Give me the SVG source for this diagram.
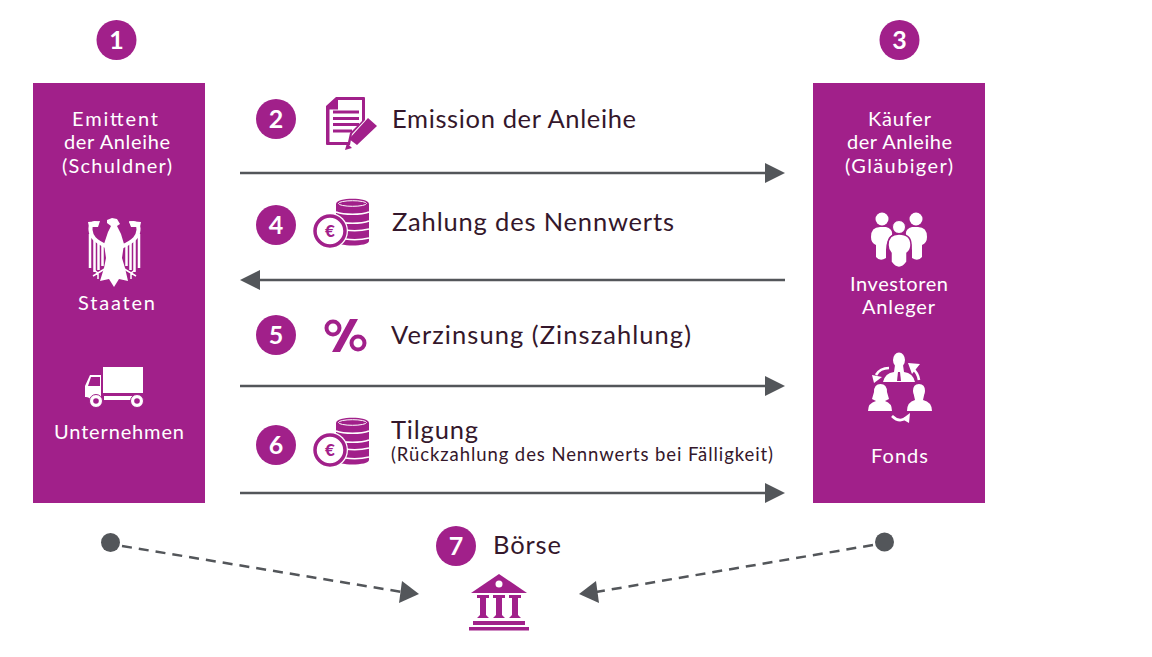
<svg xmlns="http://www.w3.org/2000/svg" width="1152" height="657" viewBox="0 0 1152 657">
<style>
text{font-family:"Lato","Liberation Sans",sans-serif}
.w{fill:#fff;font-size:20px}
.d{fill:#34172b;font-size:25.500px}
.n{fill:#fff;font-size:25px;font-weight:700;text-anchor:middle}
.c{fill:#a1208a}
.box{fill:#a1208a}
.l{stroke:#53565a;stroke-width:2.5;fill:none}
.ld{stroke:#53565a;stroke-width:2.5;fill:none;stroke-dasharray:10 7}
.h{fill:#53565a}
.ws{stroke:#fff;fill:none}
</style>
<defs>
<g id="coins">
<path class="c" d="M22 6C22 -1 55 -1 55 6V43C55 49 22 49 22 43Z"/>
<path d="M22 14C30 17 47 17 55 14M22 23C30 26 47 26 55 23M31 32C38 33 47 33 55 31M31 41C38 42 47 42 55 40" stroke="#fff" stroke-width="1.600" fill="none"/>
<ellipse cx="38.500" cy="5.500" rx="14" ry="2.800" fill="none" stroke="#fff" stroke-width="1"/>
<circle cx="16" cy="33" r="18" fill="#fff"/>
<circle cx="16" cy="33" r="15" fill="#fff" stroke="#a1208a" stroke-width="3.500"/>
<text x="16" y="39" text-anchor="middle" style="font-size:17px;font-weight:900;fill:#a1208a">€</text>
</g>
</defs>
<g id="connectors">
<path class="l" d="M240 173H768"/><path class="h" d="M785 173L765 163V183Z"/>
<path class="l" d="M257 280H785"/><path class="h" d="M240 280L260 270V290Z"/>
<path class="l" d="M240 386H768"/><path class="h" d="M785 386L765 376V396Z"/>
<path class="l" d="M240 493H768"/><path class="h" d="M785 493L765 483V503Z"/>
<path class="ld" d="M122 546L402 592"/><path class="h" d="M419 594L402 581L399 603Z"/>
<path class="ld" d="M873 545L596 592"/><path class="h" d="M579 594L596 581L599 603Z"/>
</g>
<g id="n1"><circle class="c" cx="116.500" cy="40" r="20"/><text class="n" x="116.500" y="49">1</text></g>
<g id="n3"><circle class="c" cx="899.500" cy="40" r="20"/><text class="n" x="899.500" y="49">3</text></g>
<g id="emittent"><rect class="box" x="33" y="83" width="172" height="420"/>
<text class="w" x="72" y="126" textLength="86">Emittent</text>
<text class="w" x="64" y="149" textLength="106">der Anleihe</text>
<text class="w" x="62" y="173" textLength="110">(Schuldner)</text>
<text class="w" x="78" y="310" textLength="77">Staaten</text>
<text class="w" x="54" y="439" textLength="130">Unternehmen</text>
<g id="eagle">
<path fill="#fff" d="M107 220L112 218L117 219L120 224L117 226L121 234L124 244L122 258L125 268L128 281L119 279L114 287L109 279L100 281L104 268L106 258L104 244L108 232L111 226L107 223Z"/>
<path class="ws" stroke-width="4" d="M98 224C93 221 90 225 90.500 230C91 236 94 241 108 247"/>
<path class="ws" stroke-width="4" d="M130 224C135 221 139 225 138.500 230C138 236 135 241 121 247"/>
<path fill="#fff" d="M88 222L100 221L98 227L89 227Z M141 222L129 221L131 227L140 227Z"/>
<path class="ws" stroke-width="2.500" d="M90 234V268M94.500 240V272M98.500 242V270M102.500 243V266M139 234V268M134.500 240V272M130.500 242V270M126.500 243V266"/>
<path class="ws" stroke-width="1.500" d="M108 267L98 273L94 270M98 273L93 276M98 273L98 279M121 267L131 273L135 270M131 273L136 276M131 273L131 279"/>
</g>
<g id="truck"><path fill="#fff" d="M103 367H143V393H103ZM85 386L90 375H101V400H91A6 6 0 0 0 85 397ZM104 396H132V400H104Z"/>
<path d="M88 386L91 377H100V386Z" fill="#a1208a"/>
<circle cx="96" cy="401" r="6.500" fill="#fff" stroke="#a1208a"/><circle cx="137" cy="401" r="6.500" fill="#fff" stroke="#a1208a"/>
<circle cx="96" cy="401" r="2.800" fill="#a1208a"/><circle cx="137" cy="401" r="2.800" fill="#a1208a"/></g>
</g>
<g id="kaeufer"><rect class="box" x="813" y="83" width="172" height="420"/>
<text class="w" x="868" y="126" textLength="63">Käufer</text>
<text class="w" x="847" y="149" textLength="105">der Anleihe</text>
<text class="w" x="845" y="173" textLength="108">(Gläubiger)</text>
<text class="w" x="850" y="291" textLength="98">Investoren</text>
<text class="w" x="862" y="314" textLength="73">Anleger</text>
<text class="w" x="871" y="463" textLength="57">Fonds</text>
<g id="investors" fill="#fff"><circle cx="882" cy="219" r="6.500"/><circle cx="916" cy="219" r="6.500"/>
<path d="M871 237Q871 227 880 227H886Q893 229 892 235Q886 240 886 250V258Q880 262 876 257V245Q871 243 871 237Z"/>
<path d="M927 237Q927 227 918 227H912Q905 229 906 235Q912 240 912 250V258Q918 262 922 257V245Q927 243 927 237Z"/>
<circle cx="899" cy="227" r="6.500" stroke="#a1208a" stroke-width="1"/>
<path d="M888 245Q888 234 899 234Q911 234 911 245Q911 250 907 253V262Q899 273 891 262V253Q888 250 888 245Z" stroke="#a1208a" stroke-width="1.500"/></g>
<g id="fonds" fill="#fff">
<ellipse cx="899" cy="360" rx="6" ry="7.500"/><path d="M895 365H903L904 372Q913 373 915 382H883Q885 373 894 372Z"/>
<path d="M898 372H900L901 381H897Z" fill="#a1208a"/>
<ellipse cx="880.500" cy="392" rx="5.500" ry="6.500"/><path d="M874 392Q874 384 880.500 384Q887 384 887 392L889 399L885 401Q892 403 892 411H868Q868 403 876 401L872 399Z"/>
<ellipse cx="919" cy="392" rx="5.500" ry="6.500"/><path d="M913 391Q913 384 919 384Q925 384 925 391L923 400Q932 402 932 411H907Q907 402 915 400Z"/>
<path class="ws" stroke-width="2.600" d="M889 368Q880 368 876 375M919 380Q918 373 913 369M892 416Q899 423 906 418"/>
<path d="M872 375L882 377L874 383Z M920 364L912 374L908 363Z M910 413L909 423L902 419Z"/>
</g>
</g>
<g id="step2"><circle class="c" cx="276" cy="119" r="20"/><text class="n" x="276" y="128">2</text>
<path class="c" d="M336 97H364Q365 97 365 98V120L352 134L350 145H327Q326 145 326 144V106Z"/>
<path d="M338 100H362V121L350 133L348 142H329.500V109.500H338Z" fill="#fff"/>
<path class="c" d="M333 110.500H359V113.500H333ZM333 117H359V120H333ZM333 123H359V126H333ZM333 129.500H352V132.500H333Z"/>
<path class="c" d="M368 118L377 126L357 145L349 139ZM345 150L347 143L352 148Z"/>
<text class="d" x="392" y="128" textLength="244">Emission der Anleihe</text></g>
<g id="step4"><circle class="c" cx="276" cy="225" r="20"/><text class="n" x="276" y="234">4</text><use href="#coins" x="314" y="198"/><text class="d" x="392" y="231" textLength="282">Zahlung des Nennwerts</text></g>
<g id="step5"><circle class="c" cx="276" cy="335" r="20"/><text class="n" x="276" y="344">5</text>
<g id="percent"><circle cx="333" cy="328" r="6.500" fill="none" stroke="#a1208a" stroke-width="4"/><circle cx="358" cy="343" r="6.500" fill="none" stroke="#a1208a" stroke-width="4"/><path class="c" d="M350 319H358L340 352H332Z"/></g>
<text class="d" x="391" y="344" textLength="300">Verzinsung (Zinszahlung)</text></g>
<g id="step6"><circle class="c" cx="276" cy="445" r="20"/><text class="n" x="276" y="454">6</text><use href="#coins" x="314" y="417"/>
<text class="d" x="391" y="439" textLength="87">Tilgung</text><text x="391" y="461" textLength="382" style="font-size:18.500px;fill:#34172b">(Rückzahlung des Nennwerts bei Fälligkeit)</text></g>
<g id="dots"><circle class="h" cx="110.500" cy="542.500" r="9.500"/><circle class="h" cx="884.500" cy="542" r="9.500"/></g>
<g id="boerse"><circle class="c" cx="456" cy="546" r="20"/><text class="n" x="456" y="555">7</text><text class="d" x="493" y="554" textLength="68">Börse</text>
<path class="c" d="M499 574L527 593H471Z"/><circle cx="499" cy="584" r="3.500" fill="#fff"/>
<path class="c" d="M477 595H489V598H486V615L489 618H477L480 615V598H477ZM493 595H505V598H502V615L505 618H493L496 615V598H493ZM509 595H521V598H518V615L521 618H509L512 615V598H509Z"/>
<rect class="c" x="473" y="621" width="52" height="4"/><rect class="c" x="469" y="627" width="60" height="3.500"/></g>
</svg>
